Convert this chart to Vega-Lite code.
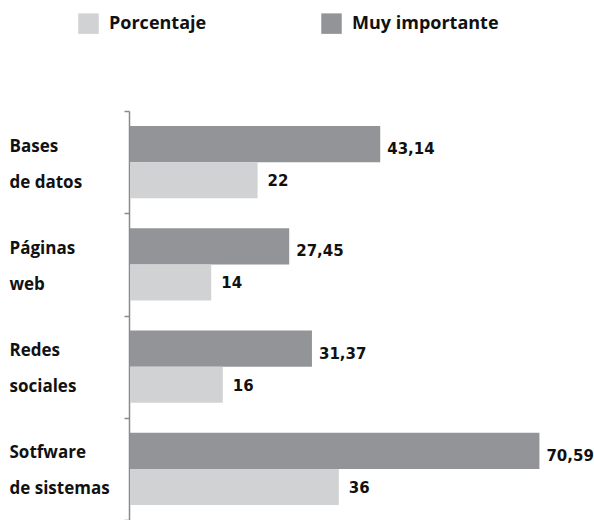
{
  "$schema": "https://vega.github.io/schema/vega-lite/v6.json",
  "autosize": {"type": "none"},
  "width": 464,
  "height": 409,
  "padding": {"left": 130, "top": 111, "right": 0, "bottom": 0},
  "background": "white",
  "config": {
    "view": {"stroke": null},
    "locale": {"number": {"decimal": ",", "thousands": ".", "grouping": [3], "currency": ["", " €"]}}
  },
  "data": {
    "values": [
      {"categoria": "Bases|de datos", "serie": "Muy importante", "valor": 43.14},
      {"categoria": "Bases|de datos", "serie": "Porcentaje", "valor": 22},
      {"categoria": "Páginas|web", "serie": "Muy importante", "valor": 27.45},
      {"categoria": "Páginas|web", "serie": "Porcentaje", "valor": 14},
      {"categoria": "Redes|sociales", "serie": "Muy importante", "valor": 31.37},
      {"categoria": "Redes|sociales", "serie": "Porcentaje", "valor": 16},
      {"categoria": "Sotfware|de sistemas", "serie": "Muy importante", "valor": 70.59},
      {"categoria": "Sotfware|de sistemas", "serie": "Porcentaje", "valor": 36}
    ]
  },
  "encoding": {
    "y": {
      "field": "categoria",
      "type": "nominal",
      "sort": null,
      "scale": {"paddingInner": 0, "paddingOuter": 0},
      "axis": {
        "title": null,
        "tickBand": "extent",
        "tickSize": 5,
        "tickColor": "#8a8a8a",
        "tickWidth": 1.5,
        "domainColor": "#8a8a8a",
        "domainWidth": 1.5,
        "offset": 1,
        "labelExpr": "datum.value ? split(datum.value, '|') : ''",
        "labelAlign": "left",
        "labelBaseline": "middle",
        "labelPadding": 115,
        "labelOffset": -16,
        "labelFont": "Open Sans",
        "labelFontSize": 17,
        "labelFontWeight": "bold",
        "labelColor": "#111111",
        "labelLineHeight": 36,
        "labelLimit": 200
      }
    },
    "yOffset": {
      "field": "serie",
      "type": "nominal",
      "sort": ["Muy importante", "Porcentaje"],
      "scale": {"paddingInner": 0, "paddingOuter": 0.42}
    },
    "x": {
      "field": "valor",
      "type": "quantitative",
      "scale": {"domain": [0, 80]},
      "axis": null
    }
  },
  "layer": [
    {
      "mark": {"type": "bar"},
      "encoding": {
        "color": {
          "field": "serie",
          "type": "nominal",
          "scale": {"domain": ["Porcentaje", "Muy importante"], "range": ["#d1d2d4", "#939498"]},
          "legend": {
            "title": null,
            "orient": "none",
            "direction": "horizontal",
            "legendX": -52,
            "legendY": -98,
            "symbolType": "square",
            "symbolSize": 420,
            "symbolStrokeWidth": 0,
            "labelFont": "Open Sans",
            "labelFontSize": 18,
            "labelFontWeight": "bold",
            "labelColor": "#111111",
            "labelOffset": 10,
            "columnPadding": 114
          }
        }
      }
    },
    {
      "transform": [{"filter": "datum.serie === 'Muy importante'"}],
      "mark": {"type": "text", "align": "left", "baseline": "middle", "dx": 7, "dy": 5, "font": "DejaVu Sans", "fontSize": 15, "fontWeight": "bold", "color": "#111111"},
      "encoding": {
        "text": {"field": "valor", "type": "quantitative", "format": ".2~f"}
      }
    },
    {
      "transform": [{"filter": "datum.serie === 'Porcentaje'"}],
      "mark": {"type": "text", "align": "left", "baseline": "middle", "dx": 10, "dy": 1, "font": "DejaVu Sans", "fontSize": 15, "fontWeight": "bold", "color": "#111111"},
      "encoding": {
        "text": {"field": "valor", "type": "quantitative", "format": ".2~f"}
      }
    }
  ]
}
